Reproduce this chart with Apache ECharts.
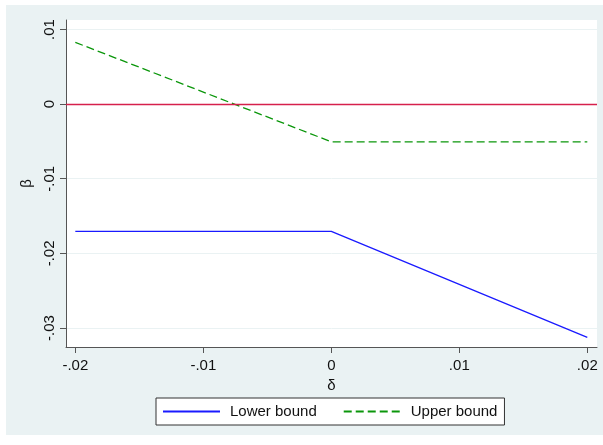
<!DOCTYPE html>
<html>
<head>
<meta charset="utf-8">
<script src="https://cdn.jsdelivr.net/npm/echarts@6/dist/echarts.min.js"></script>
<style>
html,body{margin:0;padding:0;background:#ffffff;}
#c{position:absolute;left:6px;top:5px;width:597px;height:430px;}
</style>
</head>
<body>
<div id="c"></div>
<script>
// Data
const xPoints = [-0.02, 0, 0.02];
const lowerBound = [-0.01705, -0.01705, -0.03126];
const upperBound = [0.00828, -0.00505, -0.00505];
const xTicks = [-0.02, -0.01, 0, 0.01, 0.02];
const yTicks = [-0.03, -0.02, -0.01, 0, 0.01];
const seriesNames = ['Lower bound', 'Upper bound'];

function fmt(v) {
  if (Math.abs(v) < 1e-12) return '0';
  const s = Math.abs(v).toFixed(2).replace(/^0/, '');
  return (v < 0 ? '-' : '') + s;
}
const font = 'Liberation Sans, Arial, sans-serif';
const axisColor = '#555555';

const chart = echarts.init(document.getElementById('c'), null, {renderer: 'canvas'});
chart.setOption({
  animation: false,
  backgroundColor: '#EAF2F3',
  textStyle: {fontFamily: font},
  grid: {
    left: 60, right: 6, top: 15, bottom: 88,
    show: true, backgroundColor: '#ffffff', borderWidth: 0
  },
  legend: {
    left: 150, top: 393,
    data: seriesNames,
    orient: 'horizontal',
    itemWidth: 57, itemHeight: 14, itemGap: 26,
    padding: [6, 7, 6, 6],
    backgroundColor: '#ffffff',
    borderColor: '#333333', borderWidth: 1, borderRadius: 0,
    itemStyle: {opacity: 0},
    textStyle: {fontSize: 15, color: '#111', fontFamily: font, padding: [0, 0, 0, 5]}
  },
  xAxis: {
    type: 'value',
    min: -0.020727, max: 0.020758,
    name: 'δ', nameLocation: 'middle', nameGap: 23,
    nameTextStyle: {fontSize: 15, color: '#111', fontFamily: font},
    axisLine: {show: true, onZero: false, lineStyle: {color: axisColor, width: 1}},
    axisTick: {show: true, length: 6, lineStyle: {color: axisColor}, customValues: xTicks},
    axisLabel: {fontSize: 15, color: '#111', margin: 11, customValues: xTicks, formatter: fmt},
    splitLine: {show: false}
  },
  yAxis: {
    type: 'value',
    min: -0.032547, max: 0.011273,
    name: 'β', nameLocation: 'middle', nameGap: 31,
    nameTextStyle: {fontSize: 15, color: '#111', fontFamily: font},
    axisLine: {show: true, onZero: false, lineStyle: {color: axisColor, width: 1}},
    axisTick: {show: true, length: 6, lineStyle: {color: axisColor}, customValues: yTicks},
    axisLabel: {fontSize: 15, color: '#111', margin: 9, rotate: 90, customValues: yTicks, formatter: fmt},
    splitLine: {show: true, lineStyle: {color: '#EAF2F3', width: 1}}
  },
  series: [
    {
      name: seriesNames[0], type: 'line', symbol: 'none',
      data: xPoints.map((x, i) => [x, lowerBound[i]]),
      lineStyle: {color: '#1a1aff', width: 1.3},
      itemStyle: {color: '#1a1aff'},
      markLine: {
        silent: true, symbol: 'none', label: {show: false},
        lineStyle: {color: '#d6204c', width: 1.3, type: 'solid'},
        data: [{yAxis: 0}]
      },
      z: 3
    },
    {
      name: seriesNames[1], type: 'line', symbol: 'none',
      data: xPoints.map((x, i) => [x, upperBound[i]]),
      lineStyle: {color: '#0a960a', width: 1.3, type: [8, 4]},
      itemStyle: {color: '#0a960a'},
      z: 3
    }
  ]
});
</script>
</body>
</html>
